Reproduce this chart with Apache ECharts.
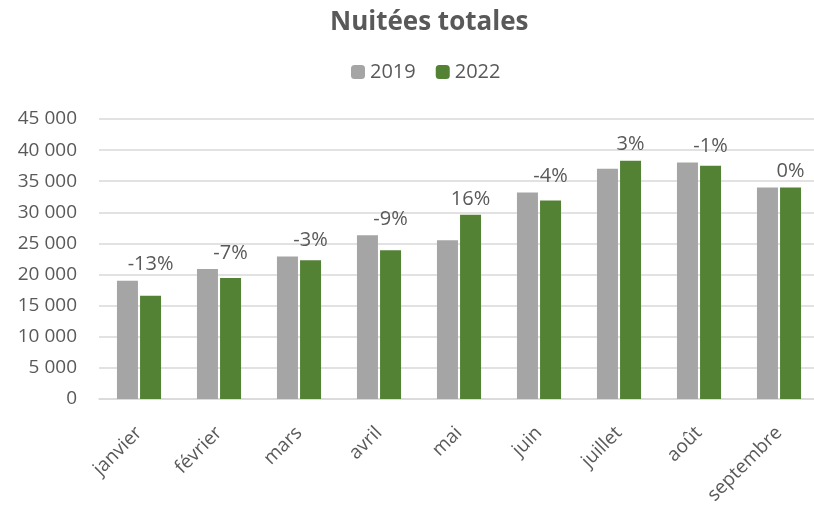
<!DOCTYPE html>
<html>
<head>
<meta charset="utf-8">
<script src="https://cdn.jsdelivr.net/npm/echarts@6/dist/echarts.min.js"></script>
<style>
  html, body { margin: 0; padding: 0; background: #fff; }
  #myChart { width: 814px; height: 505px; }
</style>
</head>
<body>
<div id="myChart"></div>
<script>
// données
var mois = ['janvier', 'février', 'mars', 'avril', 'mai', 'juin', 'juillet', 'août', 'septembre'];
var nuitees2019 = [19000, 20900, 22900, 26300, 25500, 33200, 37000, 38000, 34000];
var nuitees2022 = [16600, 19450, 22300, 23900, 29600, 31900, 38300, 37500, 34000];
var evolution = ['-13%', '-7%', '-3%', '-9%', '16%', '-4%', '3%', '-1%', '0%'];

var gris = '#a5a5a5';
var vert = '#548235';
var texte = '#595959';
var police = 'Open Sans';

// barre invisible empilée sur 2022 pour poser le % au-dessus de la plus haute
var ecart = nuitees2022.map(function (v, i) {
    return Math.max(nuitees2019[i], v) - v;
});

var myChart = echarts.init(document.getElementById('myChart'));
var option = {
    animation: false,
    textStyle: { fontFamily: police, color: texte },
    title: {
        text: 'Nuitées totales',
        left: 325,
        top: 5,
        textStyle: { fontSize: 26, fontWeight: 'bold', color: texte, fontFamily: police }
    },
    legend: {
        data: ['2019', '2022'],
        top: 57,
        left: 346,
        itemWidth: 14,
        itemHeight: 14,
        itemGap: 20,
        textStyle: { fontSize: 20, color: texte, fontFamily: police }
    },
    grid: { left: 99, right: -5, top: 119, bottom: 106, outerBoundsMode: 'none' },
    xAxis: {
        type: 'category',
        data: mois,
        axisTick: { show: false },
        axisLine: { show: true, lineStyle: { color: '#d9d9d9', width: 1.5 } },
        axisLabel: { rotate: 45, fontSize: 19, color: texte, margin: 31, fontFamily: police }
    },
    yAxis: {
        type: 'value',
        min: 0,
        max: 45000,
        interval: 5000,
        axisLine: { show: false },
        axisTick: { show: false },
        splitLine: { lineStyle: { color: '#d9d9d9', width: 1.5 } },
        axisLabel: {
            fontSize: 19,
            color: texte,
            margin: 22,
            fontFamily: police,
            formatter: function (v) {
                return String(v).replace(/\B(?=(\d{3})+(?!\d))/g, ' ');
            }
        }
    },
    series: [
        {
            name: '2019',
            type: 'bar',
            data: nuitees2019,
            barWidth: 21,
            barGap: '10%',
            itemStyle: { color: gris }
        },
        {
            name: '2022',
            type: 'bar',
            stack: 'b',
            data: nuitees2022,
            barWidth: 21,
            itemStyle: { color: vert }
        },
        {
            name: 'evol',
            type: 'bar',
            stack: 'b',
            data: ecart,
            barWidth: 21,
            silent: true,
            itemStyle: { color: 'rgba(0,0,0,0)' },
            label: {
                show: true,
                position: 'top',
                distance: 6,
                fontSize: 20,
                color: texte,
                fontFamily: police,
                formatter: function (p) { return evolution[p.dataIndex]; }
            }
        }
    ]
};
myChart.setOption(option);
window.addEventListener('resize', function () { myChart.resize(); });
</script>
</body>
</html>
